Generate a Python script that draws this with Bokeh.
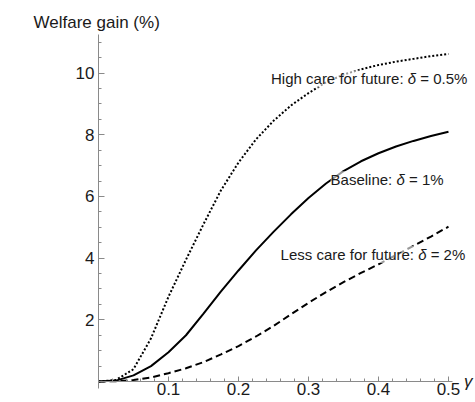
from bokeh.plotting import figure
from bokeh.models import Range1d, FixedTicker, Label
from bokeh.embed import file_html
from bokeh.resources import INLINE

# ---- data ----
gamma = [0.0, 0.025, 0.05, 0.075, 0.1, 0.125, 0.15, 0.175, 0.2, 0.225, 0.25,
         0.275, 0.3, 0.325, 0.35, 0.375, 0.4, 0.425, 0.45, 0.475, 0.5]
high_care = [0.0, 0.05, 0.4, 1.4, 2.75, 3.95, 5.1, 6.2, 7.1, 7.85, 8.45,
             8.95, 9.35, 9.7, 9.95, 10.12, 10.26, 10.37, 10.46, 10.55, 10.62]
baseline = [0.0, 0.03, 0.2, 0.5, 0.95, 1.5, 2.2, 2.92, 3.6, 4.25, 4.85,
            5.42, 5.95, 6.42, 6.82, 7.14, 7.4, 7.62, 7.8, 7.96, 8.1]
less_care = [0.0, 0.01, 0.05, 0.13, 0.27, 0.43, 0.63, 0.88, 1.15, 1.46, 1.8,
             2.18, 2.55, 2.9, 3.22, 3.52, 3.8, 4.1, 4.4, 4.7, 5.02]

x_ticks = [0.1, 0.2, 0.3, 0.4, 0.5]
x_minor = [round(0.02 * i, 2) for i in range(1, 26)]
y_ticks = [2, 4, 6, 8, 10]
y_minor = [0.5 * i for i in range(1, 23)]

# annotation texts: (prefix, symbol, suffix)
labels = [
    ("High care for future:", "δ", "= 0.5%"),
    ("Baseline:", "δ", "= 1%"),
    ("Less care for future:", "δ", "= 2%"),
]

FONT = "Liberation Sans"
AXIS_GRAY = "#8a8a8a"
TEXT_COL = "#1a1a1a"

p = figure(width=475, height=402,
           x_range=Range1d(0, 0.5386), y_range=Range1d(-0.68, 11.25),
           output_backend="svg", toolbar_location=None,
           min_border_left=98, min_border_right=0,
           min_border_top=34, min_border_bottom=0)

p.outline_line_color = None
p.grid.visible = False
p.background_fill_color = "white"
p.border_fill_color = "white"

# title playing the role of the y-axis label
p.title.text = "Welfare gain (%)"
p.title.text_font = FONT
p.title.text_font_size = "17px"
p.title.text_font_style = "normal"
p.title.text_color = TEXT_COL
p.title.align = "left"
p.title.offset = -65
p.title.standoff = 6

# x axis at y = 0
xa = p.xaxis[0]
xa.fixed_location = 0
xa.bounds = (0, 0.506)
xa.ticker = FixedTicker(ticks=x_ticks, minor_ticks=x_minor)
ya = p.yaxis[0]
ya.bounds = (-0.23, 11.25)
ya.ticker = FixedTicker(ticks=y_ticks, minor_ticks=y_minor)

for ax in (xa, ya):
    ax.axis_line_color = AXIS_GRAY
    ax.major_tick_line_color = AXIS_GRAY
    ax.minor_tick_line_color = AXIS_GRAY
    ax.major_tick_out = 0
    ax.minor_tick_out = 0
    ax.major_label_text_font = FONT
    ax.major_label_text_font_size = "17px"
    ax.major_label_text_color = TEXT_COL
xa.major_tick_in = 5
xa.minor_tick_in = 3
xa.major_label_standoff = 1
ya.major_tick_in = 6
ya.minor_tick_in = 3
ya.major_label_standoff = 4

# curves
p.line(gamma, high_care, line_color="black", line_width=2, line_dash="2 2")
p.line(gamma, baseline, line_color="black", line_width=2)
p.line(gamma, less_care, line_color="black", line_width=2, line_dash="7 4")

# annotations (right edge x, baseline y in data units; suffix width in px at 15px)
anchors = [(0.527, 9.81, 47.1), (0.493, 6.54, 34.6), (0.524, 4.12, 34.6)]
SP = 4.2
DW = 8.3
for (prefix, sym, suffix), (ax_, ay_, sw) in zip(labels, anchors):
    common = dict(x=ax_, y=ay_, text_font=FONT, text_font_size="15px",
                  text_color=TEXT_COL, text_align="right",
                  text_baseline="alphabetic",
                  background_fill_color="white", background_fill_alpha=0.6)
    p.add_layout(Label(text=suffix, x_offset=0, **common))
    p.add_layout(Label(text=sym, x_offset=-(sw + SP), text_font_style="italic",
                       **common))
    p.add_layout(Label(text=prefix, x_offset=-(sw + 2 * SP + DW), **common))

# x-axis label gamma at the right end of the axis
p.add_layout(Label(x=0.522, y=0.0, text="γ", text_font=FONT,
                   text_font_size="17px", text_font_style="italic",
                   text_color=TEXT_COL, text_align="left",
                   text_baseline="alphabetic"))

open("out.html", "w").write(file_html(p, INLINE))
